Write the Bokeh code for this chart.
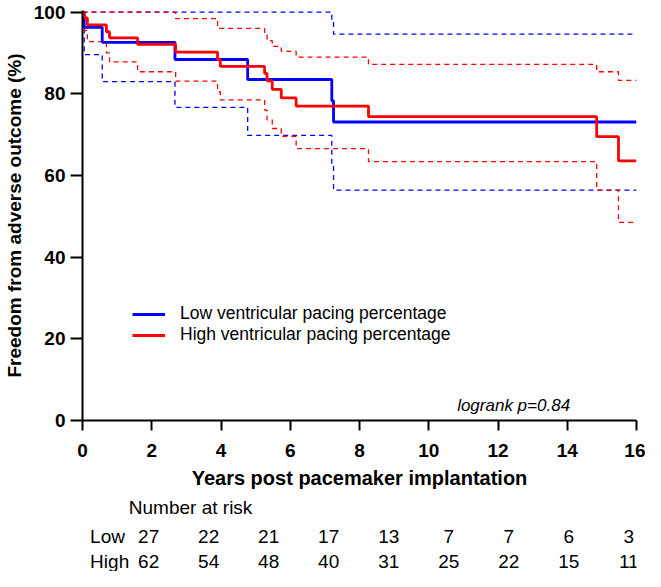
from bokeh.plotting import figure
from bokeh.models import Range1d, FixedTicker, Legend, LegendItem, Label
from bokeh.layouts import column
from bokeh.embed import file_html
from bokeh.resources import INLINE
from bokeh.core.properties import value

# ---------------- data ----------------
low_t = [0, 0.05, 0.57, 2.67, 4.77, 7.20, 7.25, 16]
low_s = [100, 96.3, 92.6, 88.4, 83.5, 78.3, 73.1, 73.1]
low_up_t = [0, 7.20, 7.25, 16]
low_up_s = [100, 97.6, 94.6, 94.6]
low_lo_t = [0, 0.05, 0.57, 2.67, 4.77, 7.20, 7.25, 16]
low_lo_s = [100, 89.6, 83.0, 76.7, 69.8, 63.0, 56.4, 56.4]

high_t = [0, 0.05, 0.14, 0.69, 0.78, 1.59, 2.69, 3.90, 3.98, 5.26, 5.33,
          5.48, 5.74, 6.17, 8.26, 14.85, 15.48, 16]
high_s = [100, 98.6, 96.9, 95.2, 93.7, 92.1, 90.2, 88.4, 86.7, 85.0, 83.2,
          81.1, 79.0, 77.0, 74.4, 69.5, 63.6, 63.6]
high_up_t = [0, 2.69, 3.90, 5.26, 5.33, 5.48, 5.74, 6.17, 8.26, 14.85, 15.48, 16]
high_up_s = [100, 98.4, 96.0, 94.6, 93.0, 91.6, 90.4, 89.0, 87.2, 85.4, 83.3, 83.3]
high_lo_t = [0, 0.05, 0.14, 0.69, 0.78, 1.59, 2.69, 3.90, 3.98, 5.26, 5.33,
             5.48, 5.74, 6.17, 8.26, 14.85, 15.48, 16]
high_lo_s = [100, 95.5, 92.8, 90.0, 87.8, 85.4, 83.1, 80.5, 78.5, 76.0, 73.6,
             71.5, 69.6, 66.6, 63.4, 56.4, 48.5, 48.5]

x_ticks = [0, 2, 4, 6, 8, 10, 12, 14, 16]
y_ticks = [0, 20, 40, 60, 80, 100]
risk_times = [0, 2, 4, 6, 8, 10, 12, 14, 16]
risk_low = [27, 22, 21, 17, 13, 7, 7, 6, 3]
risk_high = [62, 54, 48, 40, 31, 25, 22, 15, 11]
group_names = ["Low", "High"]
legend_labels = ["Low ventricular pacing percentage", "High ventricular pacing percentage"]
pvalue_text = "logrank p=0.84"

BLUE = "#0000ff"
RED = "#ff0000"
FONT = "Liberation Sans"

W = 645
LEFT, RIGHT = 77, 9
H1 = 497
H2 = 74

p = figure(width=W, height=H1, x_range=Range1d(0, 16), y_range=Range1d(0, 100.4),
           output_backend="svg", toolbar_location=None,
           min_border_left=LEFT, min_border_right=RIGHT, min_border_top=10,
           min_border_bottom=77)
p.grid.visible = False
p.outline_line_color = None
p.background_fill_color = "white"

for ax in (p.xaxis[0], p.yaxis[0]):
    ax.axis_line_width = 2
    ax.major_tick_line_width = 2
    ax.major_tick_in = 0
    ax.minor_tick_line_color = None
    ax.major_label_text_font = FONT
    ax.major_label_text_font_style = "bold"
    ax.major_label_text_font_size = "19px"
    ax.major_label_text_color = "black"
    ax.axis_label_text_font = FONT
    ax.axis_label_text_font_style = "bold"
    ax.axis_label_text_color = "black"

p.xaxis.ticker = FixedTicker(ticks=x_ticks)
p.yaxis.ticker = FixedTicker(ticks=y_ticks)
p.xaxis.major_tick_out = 10
p.yaxis.major_tick_out = 12
p.xaxis.major_label_standoff = 13
p.yaxis.major_label_standoff = 5
p.xaxis.axis_label = "Years post pacemaker implantation"
p.yaxis.axis_label = "Freedom from adverse outcome (%)"
p.xaxis.axis_label_text_font_size = "20px"
p.yaxis.axis_label_text_font_size = "19px"
p.xaxis.axis_label_standoff = 7
p.yaxis.axis_label_standoff = 6

dash = "5 4"
p.step(low_up_t, low_up_s, mode="after", line_color=BLUE, line_width=1.3, line_dash=dash)
p.step(low_lo_t, low_lo_s, mode="after", line_color=BLUE, line_width=1.3, line_dash=dash)
p.step(high_up_t, high_up_s, mode="after", line_color=RED, line_width=1.3, line_dash=dash)
p.step(high_lo_t, high_lo_s, mode="after", line_color=RED, line_width=1.3, line_dash=dash)
r_low = p.step(low_t, low_s, mode="after", line_color=BLUE, line_width=2.8)
r_high = p.step(high_t, high_s, mode="after", line_color=RED, line_width=2.8)

legend = Legend(items=[LegendItem(label=legend_labels[0], renderers=[r_low]),
                       LegendItem(label=legend_labels[1], renderers=[r_high])],
                location=(50, 75), glyph_width=33, glyph_height=20, label_height=20,
                label_standoff=15, spacing=0, padding=0, margin=0,
                border_line_alpha=0, background_fill_alpha=0,
                label_text_font=FONT, label_text_font_size="17.5px",
                label_text_color="black")
p.add_layout(legend)

p.add_layout(Label(x=10.82, y=3.6, text=pvalue_text, text_font=FONT,
                   text_font_style="italic", text_font_size="17px",
                   text_baseline="middle", text_align="left", text_color="black"))

# ---------------- number at risk table ----------------
xs = (W - LEFT - RIGHT) / 16.0
t = figure(width=W, height=H2, x_range=Range1d(-LEFT / xs, (W - LEFT) / xs),
           y_range=Range1d(H2, 0), output_backend="svg", toolbar_location=None,
           x_axis_type=None, y_axis_type=None, min_border=0)
t.grid.visible = False
t.outline_line_color = None

common = dict(text_font=value(FONT), text_font_size="19px", text_color="black",
              text_baseline="middle")
t.text(x=[-0.66], y=[10], text=["Number at risk"], text_align="left", **common)
t.text(x=[-1.95, -1.95], y=[39, 64], text=group_names, text_align="left", **common)
t.text(x=risk_times, y=[39] * len(risk_times), text=[str(v) for v in risk_low],
       text_align="center", **common)
t.text(x=risk_times, y=[64] * len(risk_times), text=[str(v) for v in risk_high],
       text_align="center", **common)

layout = column(p, t)
open("out.html", "w").write(file_html(layout, INLINE))
